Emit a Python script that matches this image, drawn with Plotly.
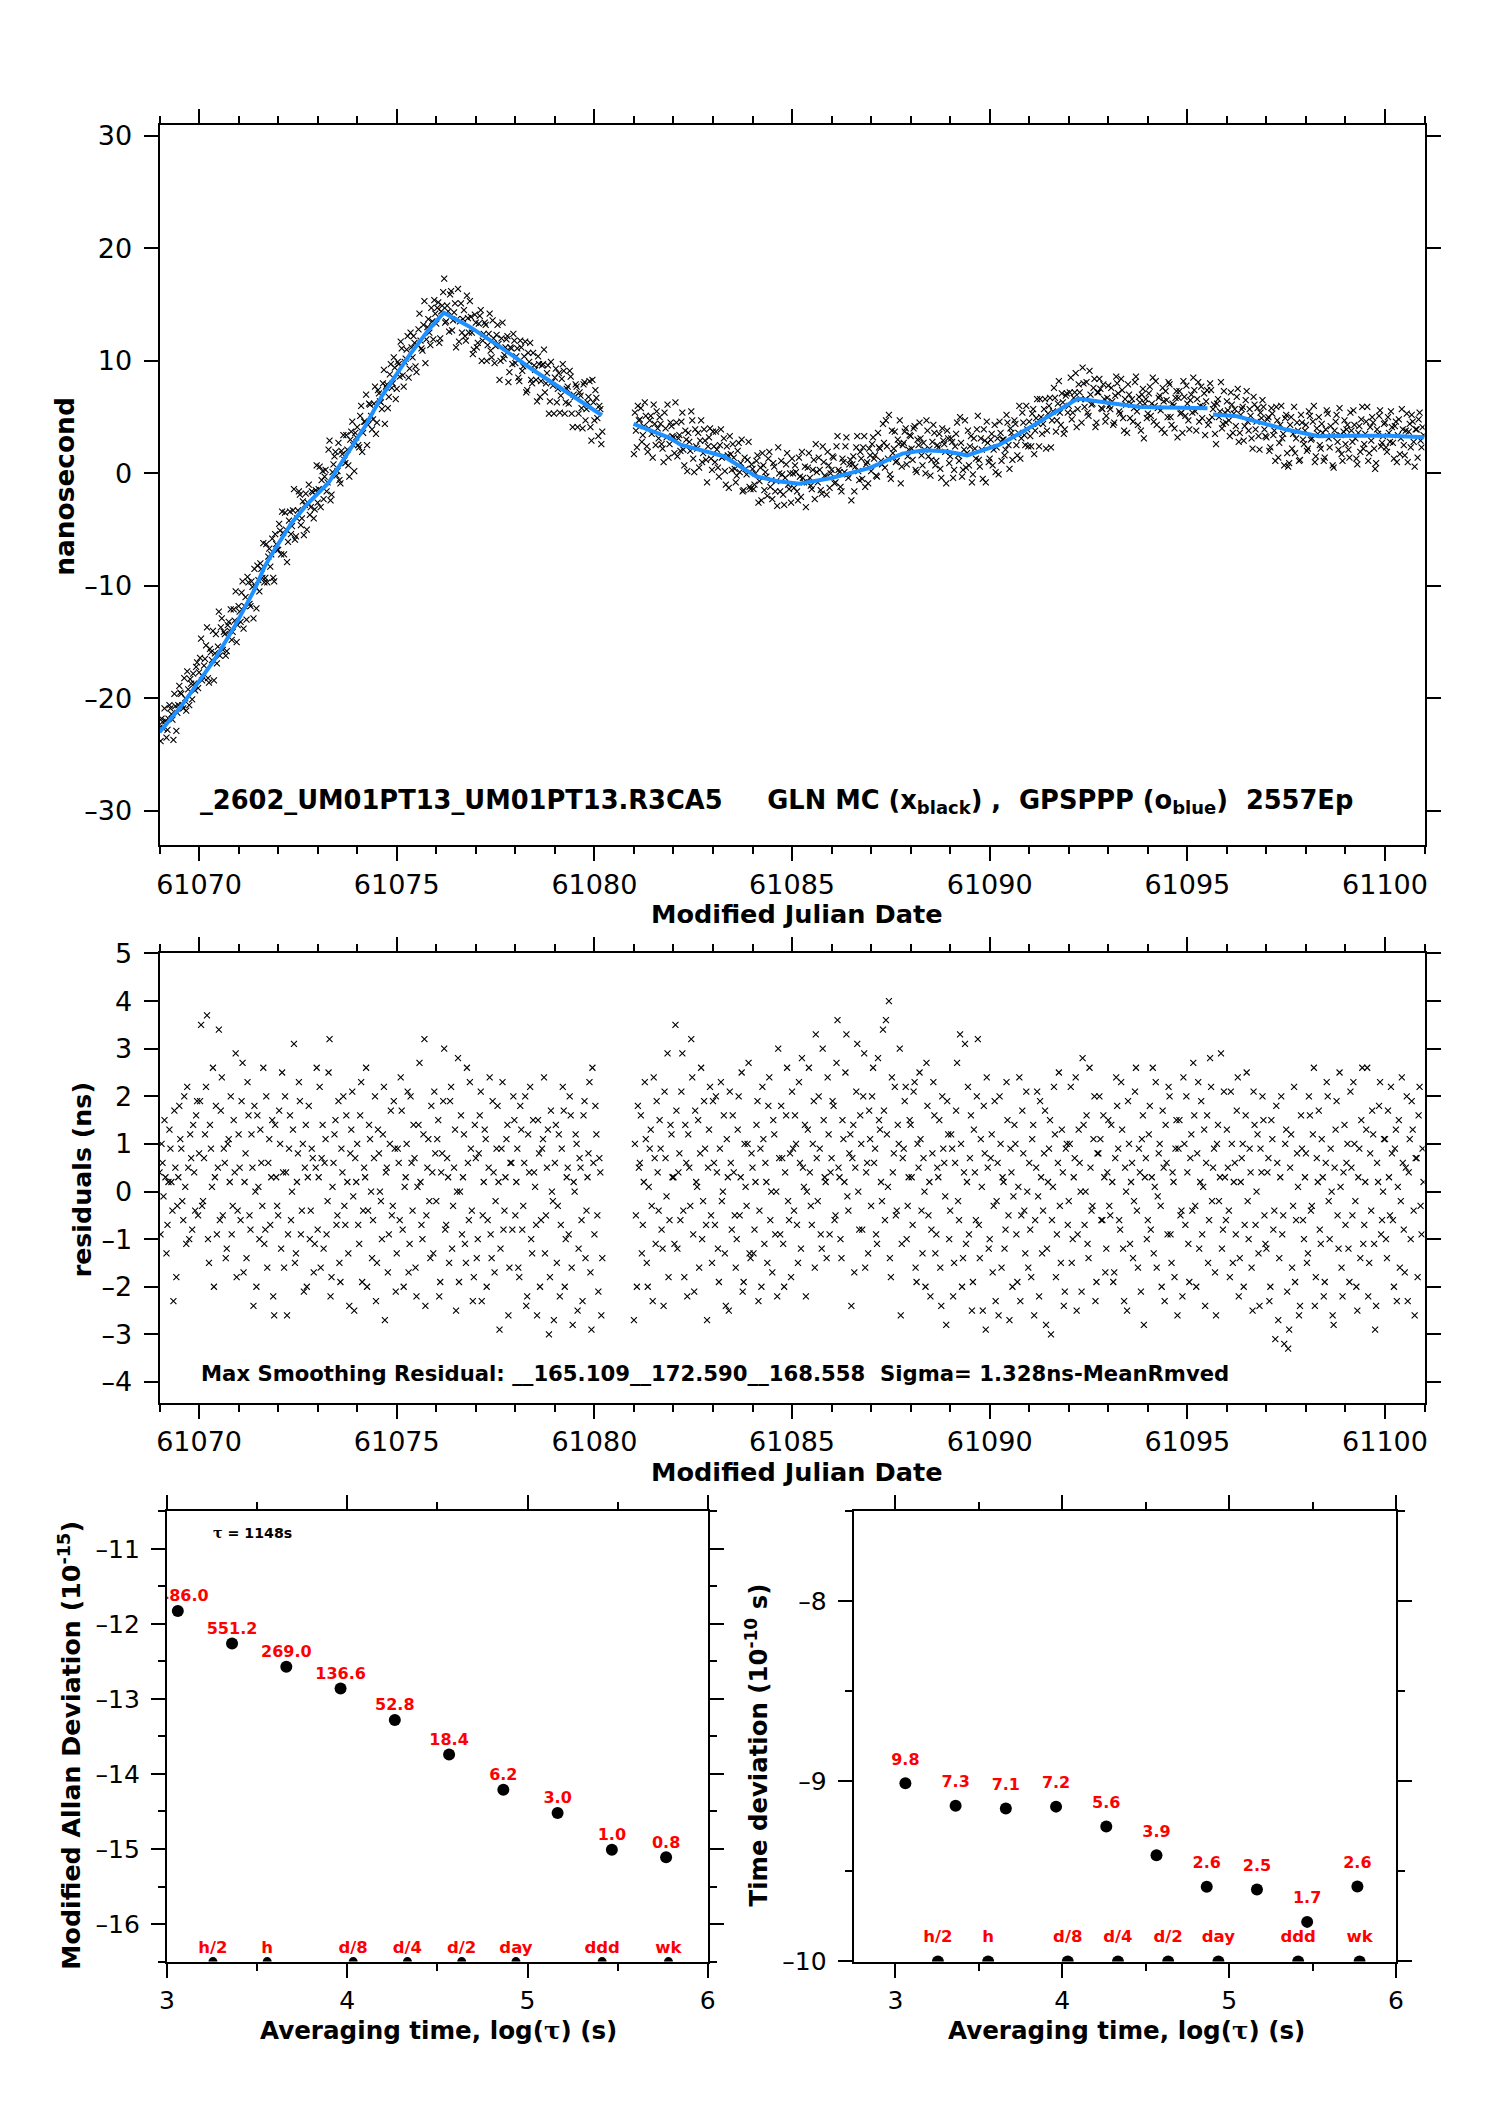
import plotly.graph_objects as go

PAGE_W, PAGE_H = 1488, 2105
BODY_MARGIN = 8                      # default page margin around the figure
W, H = PAGE_W - 2 * BODY_MARGIN, PAGE_H - 2 * BODY_MARGIN
SHRINK = 0.985                       # observed capture scaling about the page centre
CX, CY = PAGE_W / 2, PAGE_H / 2

# ---------------- data ----------------
SAMPLE_STEP = 0.05          # days between plotted epochs
seg1_start = 61069.0
seg2_start = 61081.0

clock_seg1 = [
    -22.6, -21.8, -22.7, -22.0, -22.8, -20.6, -21.4, -23.7, -20.7, -21.3, -18.9, -19.6, -20.9, -20.0, -17.6, -20.6, -18.7, -17.8, -19.3, -16.8,
    -17.7, -14.7, -18.1, -16.5, -13.7, -18.6, -15.9, -14.0, -16.0, -16.9, -12.3, -13.7, -15.7, -14.3, -15.8, -13.2, -12.1, -14.1, -13.1, -15.0,
    -11.8, -13.2, -9.6, -11.8, -13.0, -9.7, -11.8, -10.1, -8.5, -12.0, -9.5, -8.0, -9.3, -9.7, -6.3, -7.4, -8.3, -5.8, -9.6, -6.3,
    -6.8, -5.1, -3.4, -7.2, -5.0, -6.1, -3.4, -4.7, -1.4, -5.6, -3.3, -1.9, -4.0, -5.5, -1.8, -2.6, -3.7, -1.6, -4.0, -1.5,
    -2.6, 0.6, -0.6, -2.3, 0.3, -0.8, 2.9, -1.9, 0.8, 1.9, 0.2, -0.6, 2.0, 3.4, 0.9, 2.1, -0.3, 3.7, 2.5, 3.6,
    4.1, 2.3, 6.0, 3.6, 4.6, 2.5, 6.2, 5.1, 4.8, 7.7, 4.5, 7.1, 6.3, 8.0, 4.4, 7.9, 6.8, 9.7, 8.0, 9.4,
    7.5, 9.7, 11.7, 8.7, 9.9, 11.0, 8.5, 12.5, 10.3, 11.6, 9.0, 12.8, 11.8, 10.9, 15.3, 11.9, 13.7, 11.4, 13.5, 15.4,
    13.3, 15.2, 12.0, 14.9, 17.3, 13.5, 14.4, 15.9, 12.7, 14.3, 11.2, 16.4, 13.5, 12.5, 14.5, 11.8, 13.8, 15.3, 12.5, 11.0,
    13.4, 11.6, 14.0, 10.0, 12.4, 13.2, 11.4, 14.2, 10.3, 12.0, 11.3, 13.2, 8.3, 12.0, 10.2, 11.2, 12.2, 9.0, 11.1, 12.4,
    9.8, 11.1, 8.2, 11.2, 9.5, 11.7, 7.4, 9.9, 8.3, 10.7, 9.2, 6.4, 9.7, 8.2, 9.7, 7.2, 8.9, 5.3, 9.9, 7.8,
    8.5, 6.3, 8.9, 6.9, 9.7, 5.3, 7.5, 6.2, 8.6, 4.1, 6.8, 7.7, 5.3, 6.9, 4.0, 8.1, 5.7, 6.8, 4.1, 8.3,
    4.7, 6.7, 3.3, 5.7, 3.7,
]
clock_seg2 = [
    1.7, 3.8, 6.0, 4.8, 2.8, 4.2, 5.1, 1.9, 4.7, 3.5, 6.1, 2.5, 4.0, 5.0, 2.6, 1.0, 4.0, 6.1, 2.6, 4.2,
    3.2, 6.3, 1.5, 3.4, 4.6, 2.1, 3.8, 0.2, 2.8, 5.5, 1.3, 3.9, 2.2, 0.5, 4.7, 1.8, 2.9, -0.8, 3.2, 1.3,
    3.7, 1.0, 2.1, -0.3, 3.9, 1.5, 0.2, 2.4, -1.3, 1.7, 2.6, 0.4, -0.2, 2.7, 0.9, -1.6, 1.4, -0.1, 2.8, -1.4,
    0.4, -1.0, 1.1, -2.6, 0.5, 1.8, -1.5, -0.3, 1.3, -1.2, -2.3, 0.6, -0.7, 2.3, -1.6, -0.1, -2.8, 0.8, -1.0, 0.0,
    1.3, -1.3, 0.1, -2.4, -0.3, 1.9, -0.8, -3.0, 0.5, -0.4, -1.4, 1.2, 2.6, -0.8, 0.3, -1.8, 1.0, -0.3, 1.9, -1.3,
    0.3, 1.4, -0.8, 3.3, 0.1, -1.6, 1.0, 2.4, -0.1, 0.8, -2.4, 1.5, 0.6, 3.3, -0.6, 1.3, 2.3, -1.2, 1.0, 2.2,
    0.2, 3.2, 1.6, -0.3, 2.3, 1.1, 4.4, 0.5, 2.4, 5.2, -0.5, 1.8, 3.7, 1.1, 2.6, -0.9, 2.5, 3.7, 0.8, 2.1,
    3.3, 1.2, 4.2, 0.1, 2.5, 3.1, 0.7, 2.1, 4.7, 1.5, -0.2, 2.8, 3.6, 1.1, 2.3, 0.4, 4.0, 2.6, -0.9, 3.1,
    1.5, 2.8, 0.3, 3.5, 1.6, 5.0, -0.3, 2.1, 0.5, 3.8, 2.4, -0.8, 3.1, 1.3, 5.1, 0.6, 2.1, 3.9, -0.8, 2.7,
    1.3, 3.5, 2.1, 0.1, 3.1, 4.6, 1.1, 3.0, 2.1, 4.5, 0.4, 3.6, 3.2, 4.4, 1.6, 6.0, 3.1, 4.5, 2.5, 3.9,
    4.6, 2.4, 5.7, 3.8, 6.6, 2.4, 5.0, 4.4, 6.6, 3.8, 6.0, 2.3, 5.5, 6.7, 4.7, 8.2, 4.3, 6.3, 3.9, 7.1,
    6.0, 8.5, 5.4, 7.2, 4.1, 7.9, 6.6, 9.4, 5.9, 8.1, 5.1, 7.0, 6.2, 8.4, 4.5, 7.2, 7.5, 5.7, 6.6, 5.1,
    7.8, 5.7, 6.4, 4.5, 8.6, 7.1, 5.3, 7.4, 3.8, 6.1, 7.9, 4.9, 6.6, 5.8, 8.6, 4.3, 6.3, 7.0, 3.1, 6.6,
    5.3, 7.7, 6.2, 4.6, 8.2, 5.8, 6.9, 3.9, 6.4, 7.3, 5.0, 7.9, 4.3, 6.0, 6.7, 3.2, 7.3, 5.4, 8.2, 5.1,
    6.2, 3.9, 7.0, 8.5, 5.5, 6.6, 4.6, 7.7, 5.9, 3.4, 7.4, 4.7, 7.4, 5.7, 3.5, 6.2, 5.0, 8.1, 4.4, 5.4,
    6.4, 4.7, 7.2, 3.6, 5.7, 6.8, 2.8, 5.2, 5.9, 4.2, 7.3, 3.8, 5.1, 2.2, 6.1, 4.6, 3.3, 5.4, 6.5, 3.9,
    3.2, 5.0, 2.3, 5.3, 3.8, 5.9, 1.4, 4.3, 3.1, 0.7, 5.2, 0.6, 4.3, 2.2, 5.9, 3.1, 3.8, 1.2, 4.5, 2.6,
    4.3, 2.2, 5.1, 3.1, 6.0, 1.5, 3.5, 2.5, 4.4, 1.1, 3.9, 5.3, 2.3, 3.3, 0.5, 4.6, 2.8, 5.8, 1.7, 3.7,
    2.6, 4.3, 1.4, 3.8, 5.6, 3.1, 0.8, 4.2, 4.8, 2.2, 3.5, 5.9, 1.8, 2.9, 4.5, 0.4, 3.9, 5.1, 2.4, 3.3,
    4.5, 1.9, 3.6, 5.5, 2.7, 4.2, 1.0, 4.8, 3.1, 3.9, 1.6, 5.3, 3.7, 2.3, 4.6, 0.6, 3.9, 4.8, 2.9, 4.1,
]
# clock offsets at the intermediate epochs (half a step later)
clock_seg1_b = [
    -23.8, -22.1, -20.9, -23.5, -21.8, -20.9, -21.9, -19.6, -22.9, -20.6, -19.5, -20.6, -18.2, -21.1, -19.2, -18.3, -20.1, -18.7, -17.2, -19.1,
    -16.4, -18.4, -17.1, -15.3, -18.2, -15.6, -16.6, -18.4, -14.3, -15.4, -16.2, -12.9, -14.1, -16.2, -13.5, -14.0, -14.8, -12.1, -10.5, -13.5,
    -12.3, -10.6, -13.8, -11.0, -9.2, -11.6, -9.6, -12.9, -10.1, -8.2, -10.5, -8.5, -6.2, -9.3, -9.7, -6.7, -7.2, -9.3, -5.4, -6.8,
    -4.5, -7.2, -5.3, -3.5, -7.9, -4.2, -5.4, -3.3, -5.9, -4.0, -1.6, -4.6, -2.5, -2.8, -5.0, -1.0, -3.0, -1.7, -3.2, 0.7,
    -1.4, -3.0, 0.2, -0.3, -1.6, 2.1, -2.4, 0.1, 1.5, -0.2, 2.7, -0.9, 1.7, 1.2, 3.4, 0.7, 3.0, 4.6, 0.2, 3.2,
    2.5, 5.1, 1.9, 4.6, 7.0, 4.3, 6.1, 3.9, 6.2, 3.5, 7.4, 6.4, 5.7, 9.2, 7.7, 5.8, 8.8, 7.6, 10.3, 6.6,
    9.9, 8.6, 11.1, 7.7, 10.2, 12.2, 9.3, 11.2, 12.2, 9.5, 11.4, 14.2, 11.1, 13.2, 9.8, 13.0, 12.5, 14.7, 11.9, 14.2,
    14.7, 11.6, 14.4, 16.1, 13.4, 14.9, 12.6, 16.2, 13.6, 15.1, 13.7, 11.7, 15.1, 13.7, 12.2, 15.8, 12.5, 13.9, 10.6, 14.1,
    11.2, 13.3, 14.5, 11.8, 13.4, 10.0, 12.4, 10.9, 13.6, 9.8, 12.3, 11.5, 10.0, 13.4, 10.5, 11.9, 8.1, 11.2, 9.7, 11.8,
    10.4, 8.5, 11.8, 9.1, 10.4, 7.2, 10.7, 11.6, 8.0, 9.6, 8.3, 10.4, 6.8, 9.6, 11.0, 8.0, 9.6, 6.4, 8.1, 5.3,
    9.3, 7.5, 5.4, 8.4, 9.1, 6.3, 7.7, 9.1, 5.3, 7.0, 7.9, 4.1, 7.2, 5.8, 7.9, 4.7, 6.3, 8.2, 2.9, 6.3,
    7.4, 4.9, 6.0, 2.6,
]
clock_seg2_b = [
    5.4, 2.3, 4.7, 5.8, 3.4, 6.3, 2.4, 4.0, 5.1, 1.4, 4.4, 5.5, 3.1, 4.4, 2.2, 5.4, 3.2, 1.4, 4.5, 3.3,
    1.8, 4.5, 3.1, 2.0, 5.4, 0.7, 3.0, 3.6, 2.0, 4.7, 0.1, 2.4, 3.6, 2.9, 1.0, 3.9, 1.2, 2.4, 4.0, 0.3,
    2.4, 3.7, 0.5, 2.5, 1.4, 3.1, -1.0, 1.6, 3.3, 0.3, 1.4, -0.8, 2.0, 0.1, 3.0, -1.5, 0.4, 1.2, -1.2, 0.8,
    -1.4, 0.0, 1.6, -0.7, -2.4, 0.7, 0.1, -2.0, 1.9, -0.6, 0.9, -1.6, -2.9, 0.0, 1.1, -1.9, -0.4, 1.8, -1.4, -2.6,
    0.0, 0.7, -1.6, 1.4, -2.1, -0.4, 0.6, -0.8, 1.8, -1.1, 0.3, -2.3, 0.1, 1.4, -1.5, 2.4, -0.2, -1.9, 0.7, 0.0,
    1.5, -0.9, 2.4, 0.3, -1.2, 1.3, 0.1, 3.2, -0.4, 1.2, 0.8, -1.6, 2.3, 0.2, 1.9, -0.5, 3.3, 0.8, -0.9, 1.6,
    2.6, 1.3, -0.2, 3.6, 2.2, 0.8, 2.7, 4.7, 1.3, -0.1, 3.8, 2.2, 1.0, 3.0, 4.7, 0.6, 2.7, 4.0, 1.5, 3.4,
    2.2, 4.0, 0.3, 3.0, 4.5, 1.6, 2.7, 0.0, 3.8, 2.2, 1.2, 4.3, 0.7, 2.5, 3.5, -0.4, 2.9, 1.9, 3.8, 0.9,
    3.1, -0.4, 2.4, 4.5, 1.1, 2.7, 0.3, 4.7, 1.8, 0.7, 3.3, -0.1, 2.2, 3.9, 1.2, 3.1, -0.5, 2.9, 4.6, 1.0,
    3.0, 0.7, 4.3, 2.3, -0.1, 3.6, 3.0, 1.6, 5.2, 2.5, 4.0, 1.2, 4.7, 2.5, 3.6, 1.3, 5.4, 3.4, 6.0, 2.4,
    3.3, 5.3, 1.7, 4.9, 4.4, 6.6, 3.5, 5.7, 2.2, 5.3, 6.7, 4.7, 7.6, 3.7, 6.2, 5.4, 7.1, 3.5, 6.9, 5.4,
    7.2, 4.8, 6.7, 8.9, 5.7, 7.2, 4.5, 8.0, 6.6, 5.4, 9.1, 6.1, 7.6, 4.1, 7.2, 8.4, 5.8, 7.9, 4.6, 6.7,
    6.0, 7.6, 4.3, 6.9, 8.0, 5.5, 8.4, 4.9, 6.6, 3.6, 7.0, 6.2, 4.6, 8.1, 5.5, 6.8, 3.8, 7.5, 6.2, 4.9,
    7.1, 5.1, 8.5, 6.0, 4.3, 6.7, 5.6, 7.6, 3.6, 6.5, 8.1, 5.0, 6.2, 4.0, 7.3, 6.7, 5.3, 3.6, 6.8, 7.8,
    4.7, 6.5, 5.4, 7.4, 3.8, 8.1, 6.0, 4.9, 7.1, 6.4, 4.3, 8.0, 5.0, 6.1, 2.6, 6.6, 5.5, 4.0, 7.3, 4.5,
    5.6, 3.3, 6.1, 5.3, 4.2, 7.5, 3.6, 5.7, 2.9, 6.5, 4.6, 5.7, 3.1, 6.8, 3.9, 5.8, 2.1, 4.9, 5.9, 3.3,
    4.8, 2.0, 5.8, 3.4, 1.1, 4.7, 2.7, 6.0, 3.5, 4.9, 1.8, 0.9, 5.0, 3.5, 1.8, 4.5, 1.1, 5.2, 3.0, 3.8,
    2.0, 5.5, 3.0, 4.6, 1.0, 4.0, 5.0, 2.2, 3.6, 1.4, 5.6, 3.1, 4.2, 0.7, 3.8, 5.2, 2.1, 3.4, 1.1, 4.7,
    3.9, 2.1, 5.4, 2.8, 4.3, 1.3, 3.6, 1.9, 5.9, 2.6, 4.6, 1.1, 4.1, 5.0, 2.2, 0.9, 3.5, 5.6, 2.7, 4.4,
    2.3, 5.0, 2.8, 4.1, 1.3, 4.6, 3.4, 1.7, 5.7, 2.5, 3.8, 1.0, 4.4, 5.2, 2.8, 3.9, 1.4, 5.4, 2.3, 3.4,
]

resid_seg1 = [
    0.4, 1.0, -0.1, 0.3, -0.7, 1.3, 0.2, -2.3, 0.5, -0.3, 1.8, 0.9, -0.6, 0.1, 2.2, -1.0, 0.7, 1.4, -0.4, 1.9,
    0.8, 3.5, -0.2, 1.2, 3.7, -1.5, 0.9, 2.6, 0.3, -0.9, 3.4, 1.7, -0.5, 0.6, -1.2, 1.1, 2.0, -0.3, 0.4, -1.8,
    1.2, -0.6, 2.7, 0.2, -1.4, 1.6, -0.8, 0.5, 1.8, -2.0, 0.1, 1.3, -0.3, -1.1, 2.0, 0.6, -0.7, 1.5, -2.6, 0.3,
    -0.5, 1.0, 2.5, -1.6, 0.4, -0.9, 1.6, 0.0, 3.1, -1.3, 0.8, 1.9, -0.4, -2.1, 1.4, 0.3, -1.0, 0.9, -1.7, 0.5,
    -0.8, 2.2, 0.7, -1.2, 1.1, -0.2, 3.2, -1.8, 0.6, 1.5, -0.5, -1.5, 0.9, 2.0, -0.7, 0.2, -2.4, 1.3, -0.1, 0.7,
    1.0, -1.1, 2.3, -0.4, 0.3, -2.0, 1.4, 0.0, -0.6, 2.0, -1.5, 0.8, -0.2, 1.2, -2.7, 0.5, -0.9, 1.7, -0.3, 0.9,
    -1.3, 0.6, 2.4, -0.8, 0.1, 1.0, -1.7, 2.0, -0.4, 0.7, -2.2, 1.4, 0.2, -1.0, 3.2, -0.5, 1.1, -1.4, 0.4, 2.1,
    -0.2, 1.5, -1.9, 0.8, 3.0, -0.7, 0.3, 1.9, -1.2, 0.5, -2.5, 2.8, 0.0, -0.9, 1.2, -1.5, 0.6, 2.3, -0.4, -1.8,
    0.7, -1.0, 1.6, -2.3, 0.2, 1.1, -0.6, 2.4, -1.4, 0.4, -0.2, 1.8, -2.9, 0.9, -0.8, 0.3, 1.4, -1.6, 0.6, 2.0,
    -0.5, 0.9, -1.8, 1.3, -0.3, 2.0, -2.2, 0.4, -1.0, 1.5, 0.1, -2.6, 0.8, -0.6, 1.1, -1.3, 0.5, -3.0, 1.7, -0.2,
    0.6, -1.5, 1.2, -0.7, 2.2, -2.0, 0.3, -0.9, 1.6, -2.8, 0.0, 1.0, -1.2, 0.5, -2.3, 1.9, -0.4, 0.8, -1.7, 2.6,
    -0.9, 1.2, -2.1, 0.4, -1.4,
]
resid_seg2 = [
    -2.7, -0.5, 1.8, 0.6, -1.3, 0.2, 1.1, -2.0, 0.9, -0.3, 2.4, -1.1, 0.4, 1.5, -0.8, -2.4, 0.7, 2.9, -0.6, 1.2,
    0.3, 3.5, -1.2, 0.8, 2.1, -0.4, 1.4, -2.2, 0.5, 3.2, -0.9, 1.7, 0.1, -1.6, 2.6, -0.2, 0.9, -2.7, 1.3, -0.5,
    1.9, -0.7, 0.4, -1.9, 2.3, 0.0, -1.3, 1.1, -2.5, 0.6, 1.6, -0.5, -1.0, 2.0, 0.3, -2.1, 1.0, -0.3, 2.7, -1.4,
    0.5, -0.8, 1.4, -2.3, 0.9, 2.2, -1.1, 0.2, 1.8, -0.6, -1.7, 1.2, 0.0, 3.0, -0.9, 0.7, -2.0, 1.6, -0.2, 0.8,
    2.1, -0.4, 1.0, -1.5, 0.6, 2.8, 0.1, -2.2, 1.3, 0.4, -0.7, 1.9, 3.3, -0.2, 0.9, -1.2, 1.5, 0.2, 2.4, -0.9,
    0.7, 1.8, -0.5, 3.6, 0.3, -1.4, 1.1, 2.5, -0.1, 0.8, -2.4, 1.4, 0.5, 3.1, -0.8, 1.0, 2.0, -1.6, 0.6, 1.7,
    -0.3, 2.6, 0.9, -1.1, 1.5, 0.2, 3.4, -0.6, 1.2, 4.0, -1.8, 0.4, 2.2, -0.4, 1.0, -2.6, 0.7, 1.9, -1.0, 0.3,
    1.4, -0.7, 2.3, -1.9, 0.5, 1.1, -1.3, 0.0, 2.7, -0.5, -2.2, 0.8, 1.6, -0.9, 0.3, -1.6, 2.0, 0.6, -2.8, 1.2,
    -0.4, 0.9, -1.5, 1.7, -0.2, 3.3, -2.0, 0.4, -1.1, 2.2, 0.7, -2.5, 1.3, -0.6, 3.2, -1.4, 0.1, 1.8, -2.9, 0.5,
    -1.0, 1.2, -0.3, -2.3, 0.6, 2.0, -1.6, 0.2, -0.8, 1.5, -2.7, 0.4, -0.1, 1.0, -1.9, 2.4, -0.5, 0.8, -1.3, 0.0,
    0.6, -1.8, 1.4, -0.6, 2.1, -2.2, 0.3, -0.4, 1.7, -1.2, 0.9, -3.0, 0.1, 1.2, -0.9, 2.5, -1.5, 0.4, -2.1, 1.0,
    -0.2, 2.2, -1.0, 0.7, -2.5, 1.3, 0.0, 2.8, -0.7, 1.6, -1.4, 0.5, -0.3, 2.0, -1.9, 0.8, 1.1, -0.6, 0.3, -1.2,
    1.5, -0.5, 0.2, -1.7, 2.4, 0.9, -0.8, 1.3, -2.3, 0.0, 1.9, -1.1, 0.6, -0.2, 2.6, -1.6, 0.4, 1.1, -2.8, 0.7,
    -0.6, 1.8, 0.3, -1.3, 2.3, -0.1, 1.0, -2.0, 0.5, 1.4, -0.9, 2.0, -1.5, 0.2, 0.9, -2.6, 1.5, -0.4, 2.4, -0.7,
    0.4, -1.9, 1.2, 2.7, -0.3, 0.8, -1.2, 1.9, 0.1, -2.4, 1.6, -0.6, 2.2, 0.5, -1.7, 1.0, -0.2, 2.9, -0.8, 0.3,
    1.3, -0.4, 2.1, -1.5, 0.6, 1.7, -2.2, 0.2, 1.0, -0.7, 2.5, -1.0, 0.4, -2.5, 1.4, 0.0, -1.3, 0.9, 2.0, -0.5,
    -1.2, 0.7, -2.0, 1.1, -0.4, 1.8, -2.7, 0.3, -0.9, -3.2, 1.3, -3.3, 0.5, -1.6, 2.2, -0.6, 0.1, -2.4, 0.9, -1.0,
    0.8, -1.3, 1.6, -0.3, 2.6, -1.8, 0.2, -0.8, 1.1, -2.2, 0.6, 2.0, -1.0, 0.0, -2.8, 1.3, -0.5, 2.5, -1.6, 0.4,
    -0.7, 1.0, -1.9, 0.5, 2.3, -0.2, -2.5, 0.9, 1.5, -1.1, 0.2, 2.6, -1.5, -0.4, 1.2, -2.9, 0.6, 1.8, -0.9, 0.0,
    1.1, -1.4, 0.3, 2.2, -0.6, 0.9, -2.3, 1.5, -0.2, 0.6, -1.7, 2.0, 0.4, -1.0, 1.3, -2.6, 0.7, 1.6, -0.3, 0.9,
]
# residuals at the intermediate epochs (half a step later)
resid_seg1_b = [
    -0.9, 0.6, 1.5, -1.3, 0.2, 0.9, -0.4, 1.7, -1.8, 0.3, 1.1, -0.2, 2.0, -1.1, 0.5, 1.2, -0.8, 0.4, 1.6, -0.5,
    1.9, -0.3, 0.7, 2.2, -1.0, 1.4, 0.1, -2.0, 1.8, 0.5, -0.6, 2.4, 0.9, -1.4, 1.0, 0.2, -0.9, 1.5, 2.9, -0.4,
    0.5, 1.9, -1.7, 0.8, 2.3, -0.5, 1.2, -2.4, 0.0, 1.6, -1.0, 0.6, 2.6, -0.8, -1.6, 1.1, 0.3, -2.2, 1.4, -0.3,
    1.7, -1.2, 0.4, 2.0, -2.6, 0.9, -0.6, 1.3, -1.5, 0.2, 2.3, -0.9, 1.0, 0.5, -2.0, 1.8, -0.4, 0.7, -1.1, 2.6,
    0.3, -1.6, 1.4, 0.6, -0.9, 2.5, -2.2, 0.1, 1.2, -0.7, 1.9, -1.9, 0.4, -0.3, 1.6, -1.3, 0.8, 2.1, -2.5, 0.2,
    -0.7, 1.6, -1.9, 0.5, 2.6, -0.4, 1.1, -1.4, 0.7, -2.3, 1.3, 0.0, -1.0, 2.2, 0.4, -1.7, 1.0, -0.5, 1.9, -2.1,
    0.9, -0.6, 1.7, -2.0, 0.3, 2.1, -1.1, 0.6, 1.4, -1.6, 0.1, 2.7, -0.7, 1.2, -2.4, 0.5, -0.2, 1.8, -1.3, 0.8,
    1.1, -2.2, 0.4, 1.9, -0.8, 0.7, -1.5, 2.2, -0.3, 1.3, 0.0, -1.9, 1.6, 0.3, -1.1, 2.6, -0.6, 0.9, -2.3, 1.4,
    -1.4, 0.8, 2.1, -0.5, 1.3, -2.0, 0.5, -0.9, 1.9, -1.7, 0.9, 0.2, -1.2, 2.3, -0.4, 1.1, -2.6, 0.6, -0.8, 1.5,
    0.2, -1.6, 1.8, -0.8, 0.6, -2.4, 1.2, 2.2, -1.3, 0.4, -0.7, 1.5, -2.0, 0.9, 2.4, -0.5, 1.3, -1.8, 0.0, -2.7,
    1.4, -0.3, -2.2, 0.9, 1.7, -1.0, 0.5, 2.0, -1.6, 0.2, 1.2, -2.5, 0.7, -0.6, 1.6, -1.4, 0.3, 2.3, -2.9, 0.6,
    1.8, -0.5, 0.7, -2.6,
]
resid_seg2_b = [
    1.0, -2.0, 0.5, 1.6, -0.7, 2.3, -1.5, 0.1, 1.3, -2.3, 0.7, 1.9, -0.4, 0.9, -1.2, 2.1, -0.1, -1.8, 1.4, 0.3,
    -1.1, 1.7, 0.4, -0.6, 2.9, -1.8, 0.6, 1.2, -0.3, 2.4, -2.1, 0.2, 1.5, 0.8, -1.0, 1.9, -0.7, 0.5, 2.2, -1.5,
    0.6, 2.0, -1.2, 0.9, -0.2, 1.6, -2.4, 0.3, 2.1, -0.8, 0.4, -1.6, 1.3, -0.5, 2.5, -1.9, 0.1, 1.0, -1.3, 0.8,
    -1.3, 0.2, 1.9, -0.4, -2.0, 1.1, 0.6, -1.5, 2.4, 0.0, 1.5, -0.9, -2.2, 0.7, 1.8, -1.1, 0.4, 2.6, -0.6, -1.8,
    0.9, 1.6, -0.7, 2.3, -1.2, 0.5, 1.4, 0.0, 2.6, -0.3, 1.0, -1.6, 0.7, 2.0, -0.9, 3.0, 0.3, -1.4, 1.2, 0.4,
    1.9, -0.6, 2.7, 0.5, -1.0, 1.5, 0.2, 3.3, -0.4, 1.2, 0.7, -1.7, 2.1, 0.0, 1.6, -0.8, 2.9, 0.4, -1.3, 1.1,
    2.0, 0.6, -0.9, 2.8, 1.3, -0.2, 1.7, 3.6, 0.1, -1.4, 2.4, 0.8, -0.5, 1.4, 3.0, -1.1, 0.9, 2.2, -0.3, 1.5,
    0.3, 2.1, -1.6, 1.0, 2.5, -0.4, 0.7, -2.0, 1.8, 0.2, -0.8, 2.3, -1.3, 0.5, 1.5, -2.4, 0.9, -0.1, 1.9, -1.0,
    1.2, -2.2, 0.6, 2.7, -0.6, 1.0, -1.4, 3.1, 0.2, -0.9, 1.6, -1.9, 0.4, 2.0, -0.7, 1.1, -2.5, 0.8, 2.4, -1.2,
    0.7, -1.7, 1.9, -0.2, -2.6, 1.0, 0.3, -1.2, 2.3, -0.5, 0.9, -2.0, 1.4, -0.9, 0.1, -2.3, 1.7, -0.4, 2.1, -1.6,
    -0.8, 1.1, -2.6, 0.5, -0.1, 1.9, -1.3, 0.8, -2.8, 0.2, 1.5, -0.6, 2.2, -1.8, 0.6, -0.3, 1.3, -2.4, 0.9, -0.7,
    1.0, -1.5, 0.3, 2.4, -0.9, 0.6, -2.1, 1.4, 0.0, -1.1, 2.6, -0.4, 1.1, -2.3, 0.8, 2.0, -0.6, 1.6, -1.7, 0.4,
    -0.3, 1.4, -1.9, 0.7, 1.8, -0.6, 2.3, -1.2, 0.5, -2.5, 1.0, 0.2, -1.4, 2.1, -0.4, 0.9, -2.1, 1.6, 0.3, -1.0,
    1.2, -0.8, 2.6, 0.1, -1.6, 0.8, -0.3, 1.7, -2.3, 0.6, 2.2, -0.9, 0.4, -1.8, 1.5, 0.9, -0.5, -2.2, 1.0, 2.0,
    -1.1, 0.7, -0.4, 1.6, -2.0, 2.3, 0.2, -0.9, 1.3, 0.6, -1.5, 2.8, -0.2, 0.9, -2.6, 1.4, 0.3, -1.2, 2.1, -0.6,
    0.5, -1.8, 1.0, 0.2, -0.9, 2.4, -1.4, 0.7, -2.0, 1.6, -0.2, 0.9, -1.6, 2.1, -0.7, 1.2, -2.4, 0.4, 1.5, -1.1,
    0.4, -2.3, 1.5, -0.8, -3.1, 0.6, -1.4, 2.0, -0.5, 1.0, -2.1, -2.9, 1.2, -0.3, -1.9, 0.8, -2.6, 1.6, -0.6, 0.3,
    -1.5, 2.0, -0.4, 1.2, -2.4, 0.7, 1.7, -1.1, 0.3, -1.9, 2.3, -0.2, 0.9, -2.6, 0.5, 1.9, -1.2, 0.1, -2.2, 1.4,
    0.6, -1.2, 2.1, -0.5, 1.0, -2.0, 0.3, -1.4, 2.6, -0.7, 1.3, -2.2, 0.8, 1.7, -1.1, -2.4, 0.2, 2.3, -0.6, 1.1,
    -1.0, 1.7, -0.5, 0.8, -2.0, 1.3, 0.1, -1.6, 2.4, -0.8, 0.5, -2.3, 1.1, 1.9, -0.4, 0.7, -1.8, 2.2, -0.9, 0.2,
]

# blue smoothing curve (GPSPPP), three pieces
smooth_mjd_1 = [61069.0, 61069.54, 61070.39, 61070.9, 61071.4, 61071.66, 61071.91, 61072.34, 61072.76, 61073.27,
                61073.6, 61074.2, 61074.62, 61075.3, 61075.81, 61076.19, 61076.82, 61077.59, 61078.43, 61079.28, 61080.19]
smooth_ns_1 = [-23.0, -20.73, -16.57, -13.6, -10.35, -8.27, -6.79, -4.41, -2.64, -0.86,
               0.93, 4.18, 6.85, 10.4, 12.78, 14.27, 13.08, 11.3, 9.23, 7.3, 5.16]
smooth_mjd_2 = [61080.99, 61081.9, 61082.18, 61083.27, 61084.09, 61084.64, 61085.18, 61086.0, 61086.97, 61087.79,
                61088.33, 61088.88, 61089.43, 61090.25, 61091.07, 61091.75, 61092.23, 61093.12, 61093.8, 61095.51]
smooth_ns_2 = [4.39, 3.15, 2.55, 1.52, -0.27, -0.71, -0.92, -0.41, 0.48, 1.75,
               2.05, 1.96, 1.6, 2.55, 4.18, 5.67, 6.65, 6.2, 5.9, 5.78]
smooth_mjd_3 = [61095.65, 61096.26, 61097.5, 61098.32, 61099.27, 61100.1, 61101.0]
smooth_ns_3 = [5.22, 5.07, 3.89, 3.29, 3.35, 3.35, 3.2]

# stability analysis (log10 values)
log_tau = [3.06, 3.361, 3.662, 3.963, 4.264, 4.565, 4.866, 5.167, 5.468, 5.769]
mdev_log = [-11.83, -12.26, -12.57, -12.86, -13.28, -13.74, -14.21, -14.52, -15.01, -15.11]
mdev_labels = ["1486.0", "551.2", "269.0", "136.6", "52.8", "18.4", "6.2", "3.0", "1.0", "0.8"]
tdev_log = [-9.01, -9.135, -9.15, -9.14, -9.25, -9.41, -9.585, -9.60, -9.78, -9.583]
tdev_labels = ["9.8", "7.3", "7.1", "7.2", "5.6", "3.9", "2.6", "2.5", "1.7", "2.6"]
mark_log_tau = [3.255, 3.556, 4.033, 4.334, 4.635, 4.936, 5.414, 5.782]
mark_names = ["h/2", "h", "d/8", "d/4", "d/2", "day", "ddd", "wk"]

# y-axis tick values / labels (dash-style minus as in the original)
ns_ticks = [-30, -20, -10, 0, 10, 20, 30]
ns_tick_text = ["\u201330", "\u201320", "\u201310", "0", "10", "20", "30"]
res_ticks = [-4, -3, -2, -1, 0, 1, 2, 3, 4, 5]
res_tick_text = ["\u20134", "\u20133", "\u20132", "\u20131", "0", "1", "2", "3", "4", "5"]
mdev_ticks = [-16, -15, -14, -13, -12, -11]
mdev_tick_text = ["\u201316", "\u201315", "\u201314", "\u201313", "\u201312", "\u201311"]
tdev_ticks = [-10, -9, -8]
tdev_tick_text = ["\u201310", "\u20139", "\u20138"]

# ---------------- layout helpers (target page pixels -> paper fractions) ----------------
def fx(p):
    q = CX + (p - CX) / SHRINK
    return (q - BODY_MARGIN) / W

def fy(p):
    q = CY + (p - CY) / SHRINK
    return 1 - (q - BODY_MARGIN) / H

FONT = "DejaVu Sans"
BLUE = "#1E90FF"
RED = "#FF0000"

t1 = [seg1_start + i * SAMPLE_STEP for i in range(len(clock_seg1))]
t2 = [seg2_start + i * SAMPLE_STEP for i in range(len(clock_seg2))]
t1b = [seg1_start + (i + 0.5) * SAMPLE_STEP for i in range(len(clock_seg1_b))]
t2b = [seg2_start + (i + 0.5) * SAMPLE_STEP for i in range(len(clock_seg2_b))]

MJD_RANGE = [61069.0, 61101.0]
MDEV_YR = [-16.5, -10.5]
TDEV_YR = [-10.0005, -7.5]

xmark = dict(symbol="x-thin", size=6, color="black", line=dict(width=1.1, color="black"))

fig = go.Figure()

# top panel
fig.add_trace(go.Scatter(x=t1 + t2 + t1b + t2b, y=clock_seg1 + clock_seg2 + clock_seg1_b + clock_seg2_b,
                         mode="markers", marker=xmark, xaxis="x", yaxis="y", showlegend=False))
fig.add_trace(go.Scatter(x=smooth_mjd_1 + [None] + smooth_mjd_2 + [None] + smooth_mjd_3,
                         y=smooth_ns_1 + [None] + smooth_ns_2 + [None] + smooth_ns_3,
                         mode="lines", line=dict(color=BLUE, width=4), xaxis="x", yaxis="y",
                         showlegend=False, connectgaps=False))
# residual panel
fig.add_trace(go.Scatter(x=t1 + t2 + t1b + t2b,
                         y=resid_seg1 + resid_seg2 + resid_seg1_b + resid_seg2_b,
                         mode="markers", marker=xmark, xaxis="x2", yaxis="y2", showlegend=False))

# MDEV panel
MDEV_LABEL_OFF = 13.7 / 75.0
MDEV_MARK_OFF = 13.0 / 75.0
fig.add_trace(go.Scatter(x=log_tau, y=mdev_log, mode="markers",
                         marker=dict(symbol="circle", size=12, color="black"),
                         xaxis="x3", yaxis="y3", showlegend=False))
fig.add_trace(go.Scatter(x=log_tau, y=[v + MDEV_LABEL_OFF for v in mdev_log], mode="text",
                         text=mdev_labels, textposition="middle center",
                         textfont=dict(family=FONT, size=16, color=RED, weight="bold"),
                         cliponaxis=True, xaxis="x3", yaxis="y3", showlegend=False))
fig.add_trace(go.Scatter(x=mark_log_tau, y=[MDEV_YR[0]] * len(mark_log_tau), mode="markers",
                         marker=dict(symbol="circle", size=9, color="black"), cliponaxis=True,
                         xaxis="x3", yaxis="y3", showlegend=False))
fig.add_trace(go.Scatter(x=mark_log_tau, y=[MDEV_YR[0] + MDEV_MARK_OFF] * len(mark_log_tau), mode="text",
                         text=mark_names, textposition="middle center",
                         textfont=dict(family=FONT, size=16.5, color=RED, weight="bold"),
                         xaxis="x3", yaxis="y3", showlegend=False))

# TDEV panel
TDEV_LABEL_OFF = 22.6 / 180.0
TDEV_MARK_OFF = 24.0 / 180.0
fig.add_trace(go.Scatter(x=log_tau, y=tdev_log, mode="markers",
                         marker=dict(symbol="circle", size=12, color="black"),
                         xaxis="x4", yaxis="y4", showlegend=False))
fig.add_trace(go.Scatter(x=log_tau, y=[v + TDEV_LABEL_OFF for v in tdev_log], mode="text",
                         text=tdev_labels, textposition="middle center",
                         textfont=dict(family=FONT, size=16, color=RED, weight="bold"),
                         cliponaxis=True, xaxis="x4", yaxis="y4", showlegend=False))
fig.add_trace(go.Scatter(x=mark_log_tau, y=[-10.0] * len(mark_log_tau), mode="markers",
                         marker=dict(symbol="circle", size=12, color="black"), cliponaxis=True,
                         xaxis="x4", yaxis="y4", showlegend=False))
fig.add_trace(go.Scatter(x=mark_log_tau, y=[-10.0 + TDEV_MARK_OFF] * len(mark_log_tau), mode="text",
                         text=mark_names, textposition="middle center",
                         textfont=dict(family=FONT, size=16.5, color=RED, weight="bold"),
                         xaxis="x4", yaxis="y4", showlegend=False))

tickfont = dict(family=FONT, size=27, color="black")
tickfont_small = dict(family=FONT, size=25, color="black")
base = dict(showline=True, linecolor="black", linewidth=2, mirror="ticks", ticks="outside",
            ticklen=14, tickwidth=2, tickcolor="black", showgrid=False, zeroline=False,
            tickfont=tickfont, fixedrange=True)
minor_x = dict(ticks="outside", ticklen=7, tickwidth=2, tickcolor="black", showgrid=False)

fig.update_layout(
    width=W, height=H, autosize=False,
    margin=dict(l=0, r=0, t=0, b=0),
    paper_bgcolor="white", plot_bgcolor="white",
    xaxis=dict(base, domain=[fx(162), fx(1421.7)], range=MJD_RANGE, tick0=61070, dtick=5,
               tickformat="d", anchor="y", ticklabelstandoff=0,
               minor=dict(minor_x, dtick=1, tick0=61069)),
    yaxis=dict(base, domain=[fy(845.3), fy(125.5)], range=[-33.05, 30.97],
               tickmode="array", tickvals=ns_ticks, ticktext=ns_tick_text,
               anchor="x", ticklabelstandoff=6),
    xaxis2=dict(base, domain=[fx(162), fx(1421.7)], range=MJD_RANGE, tick0=61070, dtick=5,
                tickformat="d", anchor="y2", ticklabelstandoff=0,
                minor=dict(minor_x, dtick=1, tick0=61069)),
    yaxis2=dict(base, domain=[fy(1402.7), fy(953.3)], range=[-4.44, 5.005],
                tickmode="array", tickvals=res_ticks, ticktext=res_tick_text,
                anchor="x2", ticklabelstandoff=6),
    xaxis3=dict(base, domain=[fx(169.3), fx(708)], range=[2.9995, 6.0005], tick0=3, dtick=1,
                tickfont=tickfont_small, anchor="y3", ticklabelstandoff=1,
                minor=dict(minor_x, dtick=0.5)),
    yaxis3=dict(base, domain=[fy(1961), fy(1511)], range=MDEV_YR,
                tickmode="array", tickvals=mdev_ticks, ticktext=mdev_tick_text,
                tickfont=tickfont_small, anchor="x3", ticklabelstandoff=6,
                minor=dict(minor_x, dtick=0.5, tick0=-11)),
    xaxis4=dict(base, domain=[fx(853.2), fx(1393.3)], range=[2.75, 6.0005], tick0=3, dtick=1,
                tickfont=tickfont_small, anchor="y4", ticklabelstandoff=1,
                minor=dict(minor_x, dtick=0.5)),
    yaxis4=dict(base, domain=[fy(1961), fy(1511)], range=TDEV_YR,
                tickmode="array", tickvals=tdev_ticks, ticktext=tdev_tick_text,
                tickfont=tickfont_small, anchor="x4", ticklabelstandoff=6,
                minor=dict(minor_x, dtick=0.5, tick0=-10)),
)

def ann(text, x, y, size, xanchor="center", yanchor="middle", angle=0, color="black", bold=True):
    fig.add_annotation(text=text, x=x, y=y, xref="paper", yref="paper", showarrow=False,
                       xanchor=xanchor, yanchor=yanchor, textangle=angle,
                       font=dict(family=FONT, size=size, color=color,
                                 weight="bold" if bold else "normal"))

NB = "\u00a0"
TAU = "<span style=\"font-family:'DejaVu Serif'\">\u03c4</span>"

ann("nanosecond", fx(67), fy(487), 26.4, angle=-90)
ann("Modified Julian Date", fx(797), fy(914), 25.6)
ann("_2602_UM01PT13_UM01PT13.R3CA5" + NB * 5 + "GLN MC (x<sub>black</sub>) ," + NB * 2 +
    "GPSPPP (o<sub>blue</sub>)" + NB * 2 + "2557Ep", fx(200), fy(802), 25.7, xanchor="left")

ann("residuals (ns)", fx(85), fy(1180), 25.3, angle=-90)
ann("Modified Julian Date", fx(797), fy(1472), 25.6)
ann("Max Smoothing Residual: __165.109__172.590__168.558" + NB * 2 + "Sigma= 1.328ns-MeanRmved",
    fx(201), fy(1373), 21.2, xanchor="left")

ann(TAU + " = 1148s", fx(213), fy(1533), 14.2, xanchor="left")
ann("Modified Allan Deviation (10<sup>-15</sup>)", fx(73), fy(1745), 25.3, angle=-90)
ann("Averaging time, log(" + TAU + ") (s)", fx(440), fy(2030), 24.6)
ann("Time deviation (10<sup>-10</sup> s)", fx(757), fy(1745), 24.4, angle=-90)
ann("Averaging time, log(" + TAU + ") (s)", fx(1125), fy(2030), 24.6)

fig.write_html("out.html", config={"displayModeBar": False})
